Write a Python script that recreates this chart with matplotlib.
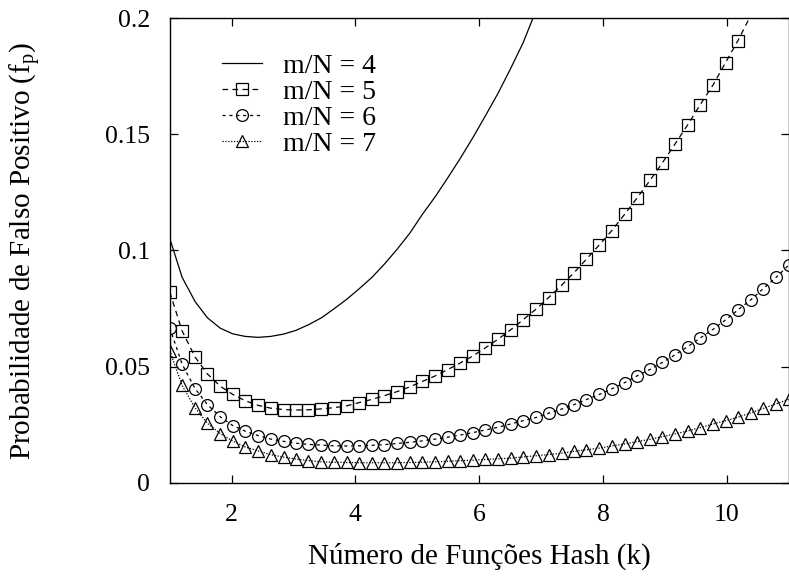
import matplotlib
matplotlib.use("Agg")
import matplotlib.pyplot as plt

plt.rcParams['font.family'] = ['Liberation Serif', 'DejaVu Serif']
plt.rcParams['mathtext.fontset'] = 'custom'
plt.rcParams['mathtext.rm'] = 'Liberation Serif'
plt.rcParams['mathtext.it'] = 'Liberation Serif:italic'

# sample grid of k (50 samples between 1 and 11)
k = [1.00, 1.20, 1.41, 1.61, 1.82, 2.02, 2.22, 2.43, 2.63, 2.84,
     3.04, 3.24, 3.45, 3.65, 3.86, 4.06, 4.27, 4.47, 4.67, 4.88,
     5.08, 5.29, 5.49, 5.69, 5.90, 6.10, 6.31, 6.51, 6.71, 6.92,
     7.12, 7.33, 7.53, 7.73, 7.94, 8.14, 8.35, 8.55, 8.76, 8.96,
     9.16, 9.37, 9.57, 9.78, 9.98, 10.18, 10.39, 10.59, 10.80, 11.00]

fp_mn4 = [0.1053, 0.0885, 0.0780, 0.0710, 0.0665, 0.0641, 0.0630, 0.0626, 0.0630, 0.0640,
          0.0656, 0.0680, 0.0710, 0.0748, 0.0790, 0.0835, 0.0885, 0.0942, 0.1004, 0.1075,
          0.1155, 0.1232, 0.1312, 0.1395, 0.1487, 0.1580, 0.1680, 0.1785, 0.1895, 0.2035,
          0.2180]

fp_mn5 = [0.0822, 0.0654, 0.0541, 0.0468, 0.0415, 0.0380, 0.0353, 0.0333, 0.0321, 0.0315,
          0.0313, 0.0314, 0.0318, 0.0323, 0.0331, 0.0345, 0.0359, 0.0375, 0.0392, 0.0413,
          0.0436, 0.0460, 0.0487, 0.0515, 0.0546, 0.0581, 0.0619, 0.0659, 0.0702, 0.0748,
          0.0797, 0.0850, 0.0904, 0.0962, 0.1024, 0.1085, 0.1156, 0.1226, 0.1302, 0.1378,
          0.1457, 0.1542, 0.1628, 0.1714, 0.1809, 0.1904, 0.2014]

fp_mn6 = [0.0668, 0.0511, 0.0405, 0.0336, 0.0283, 0.0246, 0.0222, 0.0203, 0.0188, 0.0178,
          0.0170, 0.0165, 0.0162, 0.0159, 0.0158, 0.0159, 0.0161, 0.0164, 0.0169, 0.0174,
          0.0180, 0.0188, 0.0196, 0.0205, 0.0216, 0.0227, 0.0239, 0.0253, 0.0267, 0.0281,
          0.0299, 0.0317, 0.0336, 0.0358, 0.0380, 0.0404, 0.0431, 0.0460, 0.0488, 0.0518,
          0.0550, 0.0586, 0.0623, 0.0661, 0.0701, 0.0744, 0.0788, 0.0836, 0.0885, 0.0937]

fp_mn7 = [0.0569, 0.0419, 0.0322, 0.0256, 0.0211, 0.0179, 0.0154, 0.0137, 0.0121, 0.0110,
          0.0102, 0.0095, 0.0090, 0.0088, 0.0087, 0.0086, 0.0086, 0.0086, 0.0086, 0.0087,
          0.0088, 0.0090, 0.0092, 0.0095, 0.0097, 0.0100, 0.0103, 0.0106, 0.0111, 0.0116,
          0.0121, 0.0127, 0.0135, 0.0142, 0.0149, 0.0158, 0.0167, 0.0177, 0.0187, 0.0198,
          0.0210, 0.0223, 0.0237, 0.0253, 0.0267, 0.0282, 0.0301, 0.0320, 0.0340, 0.0359]

labels = ["m/N = 4", "m/N = 5", "m/N = 6", "m/N = 7"]
xticks = [2, 4, 6, 8, 10]
yticks = [0, 0.05, 0.1, 0.15, 0.2]
yticklabels = ["0", "0.05", "0.1", "0.15", "0.2"]
ymax = 0.2

fig = plt.figure(figsize=(7.89, 5.78), dpi=100)
ax = fig.add_axes([169.7 / 789, 1 - 482.7 / 578, 619.0 / 789, 464.4 / 578])


def inside(vals):
    return [i for i, v in enumerate(vals) if v <= ymax]


lw = 0.9
ax.plot(k[:len(fp_mn4)], fp_mn4, color='black', lw=lw, ls='-', label=labels[0])
ax.plot(k[:len(fp_mn5)], fp_mn5, color='black', lw=lw, ls=(0, (4.5, 3.5)),
        marker='s', ms=8, mfc='none', mec='black', mew=0.9,
        markevery=inside(fp_mn5), label=labels[1])
ax.plot(k[:len(fp_mn6)], fp_mn6, color='black', lw=lw, ls=(0, (2.5, 3.0)),
        marker='o', ms=8.5, mfc='none', mec='black', mew=0.9, label=labels[2])
ax.plot(k[:len(fp_mn7)], fp_mn7, color='black', lw=lw, ls=(0, (1.0, 1.3)),
        marker='^', ms=8.5, mfc='none', mec='black', mew=0.9, label=labels[3])

ax.set_xlim(1, 11)
ax.set_ylim(0, ymax)
ax.set_xticks(xticks)
ax.set_xticklabels([str(t) for t in xticks])
ax.set_yticks(yticks)
ax.set_yticklabels(yticklabels)
ax.tick_params(direction='in', top=True, right=True, length=6, width=0.9,
               labelsize=18.5)
ax.tick_params(axis='x', pad=15)
ax.tick_params(axis='y', pad=14)
for s in ax.spines.values():
    s.set_linewidth(1.0)

ax.set_xlabel("Número de Funções Hash (k)", fontsize=21)
ax.xaxis.set_label_coords(0.5, -0.13)
ax.set_ylabel(r"Probabilidade de Falso Positivo (f$_\mathrm{p}$)", fontsize=21)
ax.yaxis.set_label_coords(-0.204, 0.5)

leg = ax.legend(loc='upper left', bbox_to_anchor=(0.062, 0.955), frameon=False,
                fontsize=20, handlelength=1.45, handletextpad=0.75,
                labelspacing=0.02, borderpad=0.0)

fig.savefig("out.png", dpi=100)
